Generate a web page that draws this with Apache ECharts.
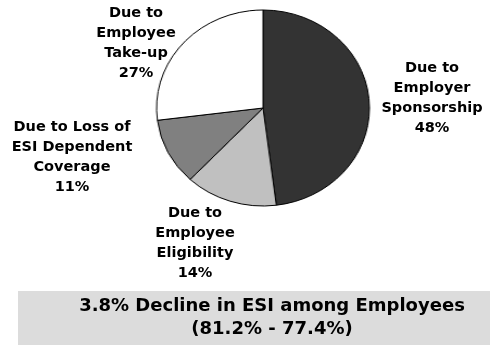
<!DOCTYPE html>
<html>
<head>
<meta charset="utf-8">
<script src="https://cdn.jsdelivr.net/npm/echarts@6/dist/echarts.min.js"></script>
<style>
  html, body { margin: 0; padding: 0; background: #ffffff; }
  #stage { position: relative; width: 490px; height: 345px; overflow: hidden; }
  #pie { position: absolute; left: 163px; top: 8px; width: 200px; height: 200px;
         transform: scaleX(1.086); transform-origin: 50% 50%; }
  #text { position: absolute; left: 0; top: 0; width: 490px; height: 345px; }
</style>
</head>
<body>
<div id="stage">
  <div id="pie"></div>
  <div id="text"></div>
</div>
<script>
// Components of the decline in ESI among employees (percent of the total decline)
const categories = [
  'Due to\nEmployer\nSponsorship',
  'Due to\nEmployee\nEligibility',
  'Due to Loss of\nESI Dependent\nCoverage',
  'Due to\nEmployee\nTake-up'
];
const shares = [48, 14, 11, 27];
const sliceColors = ['#333333', '#c0c0c0', '#808080', '#ffffff'];
const summaryLines = ['3.8% Decline in ESI among Employees', '(81.2% - 77.4%)'];

// Label anchor (centre x, top y) for each slice's caption
const labelAnchors = [[432, 58], [195, 203], [72, 117], [136, 3]];

const labelFont = 'bold 14.5px "DejaVu Sans"';

const pieChart = echarts.init(document.getElementById('pie'), null, { renderer: 'canvas' });
pieChart.setOption({
  animation: false,
  series: [{
    type: 'pie',
    center: ['50%', '50%'],
    radius: 98,
    startAngle: 90,
    clockwise: true,
    label: { show: false },
    labelLine: { show: false },
    emphasis: { disabled: true },
    itemStyle: { borderColor: '#000000', borderWidth: 1 },
    data: shares.map((v, i) => ({
      name: categories[i],
      value: v,
      itemStyle: { color: sliceColors[i] }
    }))
  }]
});

const textChart = echarts.init(document.getElementById('text'), null, { renderer: 'canvas' });
const captions = shares.map((v, i) => ({
  type: 'text',
  style: {
    text: categories[i] + '\n' + v + '%',
    x: labelAnchors[i][0],
    y: labelAnchors[i][1],
    align: 'center',
    verticalAlign: 'top',
    font: labelFont,
    lineHeight: 20,
    fill: '#000000'
  }
}));

textChart.setOption({
  animation: false,
  backgroundColor: 'transparent',
  graphic: captions.concat([
    {
      type: 'rect',
      shape: { x: 18, y: 291, width: 472, height: 54 },
      style: { fill: '#dcdcdc' }
    },
    {
      type: 'text',
      style: {
        text: summaryLines.join('\n'),
        x: 272,
        y: 294.5,
        align: 'center',
        verticalAlign: 'top',
        font: 'bold 18px "DejaVu Sans"',
        lineHeight: 23,
        fill: '#000000'
      }
    }
  ])
});
</script>
</body>
</html>
